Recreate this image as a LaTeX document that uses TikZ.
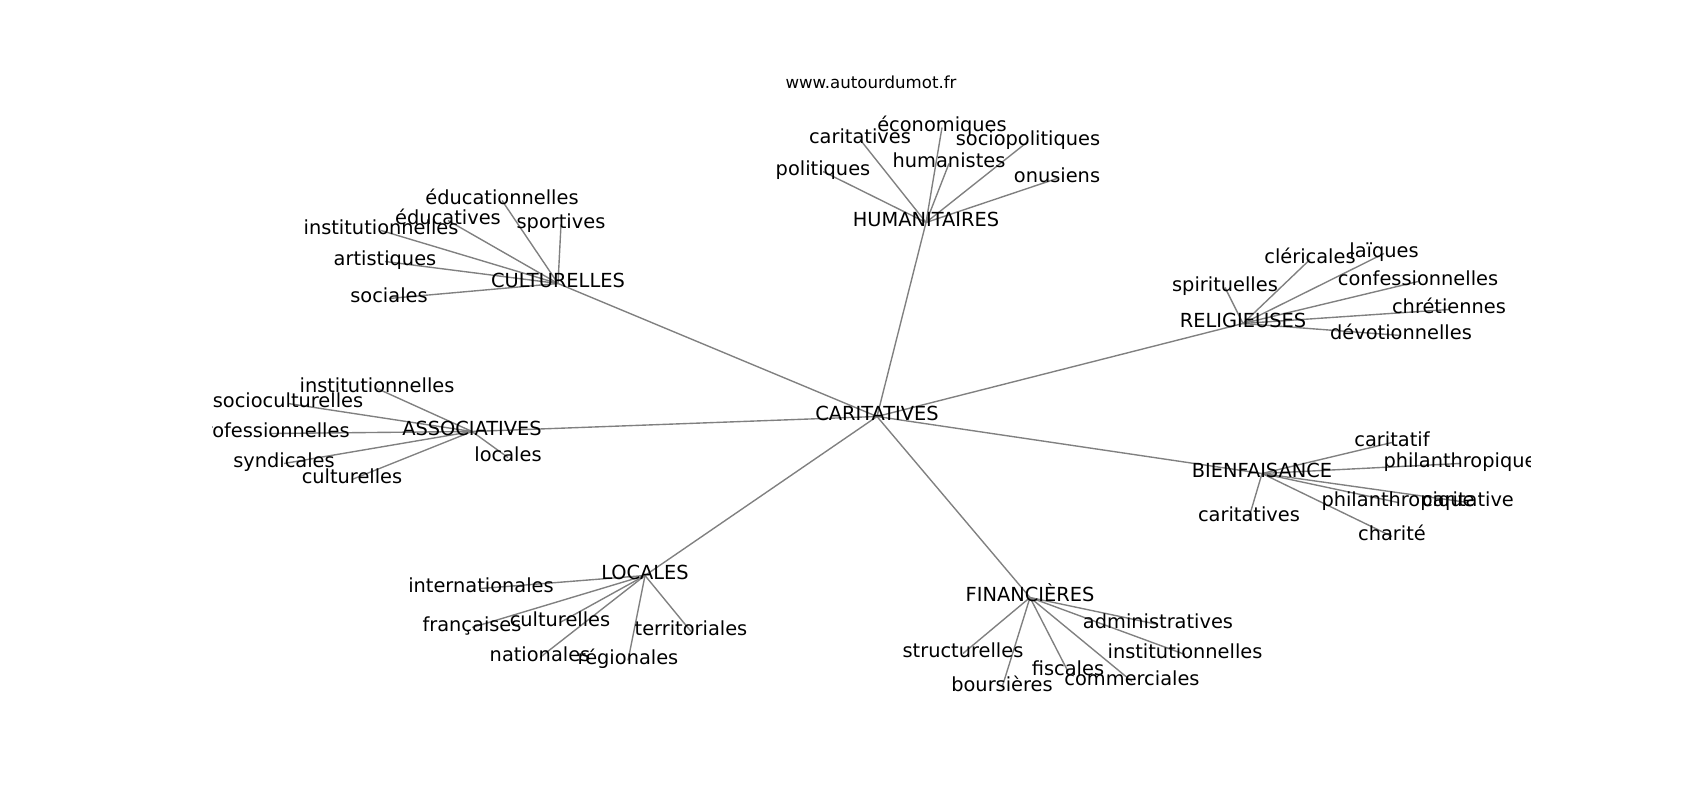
\documentclass[tikz,border=0pt]{standalone}
\usepackage{fontspec}
\setmainfont{DejaVu Sans}
\usetikzlibrary{backgrounds}

\begin{document}
\begin{tikzpicture}[x=0.01in, y=-0.01in,
        word/.style={inner sep=0pt, text height=0.76em, text depth=0.24em, font=\fontsize{14}{14}\selectfont},
        link/.style={draw=gray, line width=1pt}]
    \useasboundingbox (0,0) rectangle (1700,800);
    \node[anchor=base, inner sep=0pt, font=\fontsize{12}{12}\selectfont] (site) at (871,88.5) {www.autourdumot.fr};
    \begin{scope}
        \clip (212.5,96) rectangle (1530,712);
        \begin{scope}[shift={(0,4.5)}]
        % centre et groupes
        \node[word] (car) at (877,412) {CARITATIVES};
        \node[word] (hum) at (926,218) {HUMANITAIRES};
        \node[word] (cul) at (558,279) {CULTURELLES};
        \node[word] (rel) at (1243,319) {RELIGIEUSES};
        \node[word] (ass) at (472,427) {ASSOCIATIVES};
        \node[word] (bie) at (1262,469) {BIENFAISANCE};
        \node[word] (loc) at (645,571) {LOCALES};
        \node[word] (fin) at (1030,593) {FINANCIÈRES};
        % humanitaires
        \node[word] (hcar) at (860,135) {caritatives};
        \node[word] (heco) at (942,123) {économiques};
        \node[word] (hsoc) at (1028,137) {sociopolitiques};
        \node[word] (hhum) at (949,159) {humanistes};
        \node[word] (hpol) at (823,167) {politiques};
        \node[word] (honu) at (1057,174) {onusiens};
        % culturelles
        \node[word] (cedn) at (502,196) {éducationnelles};
        \node[word] (cedv) at (448,216) {éducatives};
        \node[word] (cins) at (381,226) {institutionnelles};
        \node[word] (cspo) at (561,220) {sportives};
        \node[word] (cart) at (385,257) {artistiques};
        \node[word] (csoc) at (389,294) {sociales};
        % religieuses
        \node[word] (rspi) at (1225,283) {spirituelles};
        \node[word] (rcle) at (1310,255) {cléricales};
        \node[word] (rlai) at (1384,249) {laïques};
        \node[word] (rcon) at (1418,277) {confessionnelles};
        \node[word] (rchr) at (1449,305) {chrétiennes};
        \node[word] (rdev) at (1401,331) {dévotionnelles};
        % associatives
        \node[word] (ains) at (377,384) {institutionnelles};
        \node[word] (asoc) at (288,399) {socioculturelles};
        \node[word] (apro) at (271,429) {professionnelles};
        \node[word] (asyn) at (284,459) {syndicales};
        \node[word] (acul) at (352,475) {culturelles};
        \node[word] (aloc) at (508,453) {locales};
        % bienfaisance
        \node[word] (bcti) at (1392,438) {caritatif};
        \node[word] (bph1) at (1460,459) {philanthropique};
        \node[word] (bph2) at (1398,498) {philanthropique};
        \node[word] (bcve) at (1468,498) {caritative};
        \node[word] (bces) at (1249,513) {caritatives};
        \node[word] (bcha) at (1392,532) {charité};
        % locales
        \node[word] (lint) at (481,584) {internationales};
        \node[word] (lfra) at (472,623) {françaises};
        \node[word] (lcul) at (560,618) {culturelles};
        \node[word] (lnat) at (540,653) {nationales};
        \node[word] (lreg) at (628,656) {régionales};
        \node[word] (lter) at (691,627) {territoriales};
        % financieres
        \node[word] (fadm) at (1158,620) {administratives};
        \node[word] (fstr) at (963,649) {structurelles};
        \node[word] (fins) at (1185,650) {institutionnelles};
        \node[word] (ffis) at (1068,667) {fiscales};
        \node[word] (fcom) at (1132,677) {commerciales};
        \node[word] (fbou) at (1002,683) {boursières};
        \end{scope}
    \end{scope}
    \begin{scope}[on background layer]
        \foreach \g in {hum, cul, rel, ass, bie, loc, fin}
            \draw[link] (car.center) -- (\g.center);
        \foreach \w in {hcar, heco, hsoc, hhum, hpol, honu}
            \draw[link] (hum.center) -- (\w.center);
        \foreach \w in {cedn, cedv, cins, cspo, cart, csoc}
            \draw[link] (cul.center) -- (\w.center);
        \foreach \w in {rspi, rcle, rlai, rcon, rchr, rdev}
            \draw[link] (rel.center) -- (\w.center);
        \foreach \w in {ains, asoc, apro, asyn, acul, aloc}
            \draw[link] (ass.center) -- (\w.center);
        \foreach \w in {bcti, bph1, bph2, bcve, bces, bcha}
            \draw[link] (bie.center) -- (\w.center);
        \foreach \w in {lint, lfra, lcul, lnat, lreg, lter}
            \draw[link] (loc.center) -- (\w.center);
        \foreach \w in {fadm, fstr, fins, ffis, fcom, fbou}
            \draw[link] (fin.center) -- (\w.center);
    \end{scope}
\end{tikzpicture}
\end{document}
